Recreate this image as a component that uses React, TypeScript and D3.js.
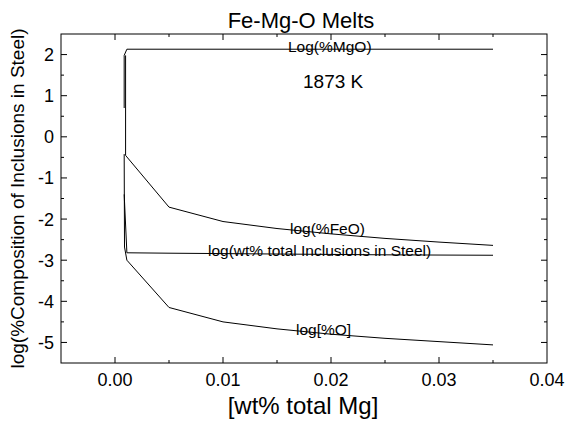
import React from "react";
import * as d3 from "d3";

const W = 566;
const H = 421;

// x values (wt% total Mg)
const mgoX = [0.00085, 0.00085, 0.0011, 0.005, 0.01, 0.015, 0.02, 0.025, 0.03, 0.035];
const mgoY = [0.7, 1.98, 2.13, 2.13, 2.13, 2.13, 2.13, 2.13, 2.13, 2.13];

const feoX = [0.00098, 0.00098, 0.0011, 0.005, 0.01, 0.015, 0.02, 0.025, 0.03, 0.035];
const feoY = [1.98, -0.45, -0.49, -1.71, -2.06, -2.23, -2.36, -2.47, -2.56, -2.64];

const totX = [0.00085, 0.0011, 0.005, 0.01, 0.015, 0.02, 0.025, 0.03, 0.035];
const totY = [-1.4, -2.82, -2.83, -2.84, -2.85, -2.86, -2.87, -2.875, -2.88];

const oX = [0.00085, 0.00088, 0.0011, 0.005, 0.01, 0.015, 0.02, 0.025, 0.03, 0.035];
const oY = [-0.42, -2.68, -3.0, -4.15, -4.5, -4.67, -4.8, -4.9, -4.98, -5.06];

const xMajor = [0.0, 0.01, 0.02, 0.03, 0.04];
const xMinor = [0.005, 0.015, 0.025, 0.035];
const yMajor = [2, 1, 0, -1, -2, -3, -4, -5];
const yMinor = [1.5, 0.5, -0.5, -1.5, -2.5, -3.5, -4.5];

const FONT = "'Liberation Sans', Arial, Helvetica, sans-serif";

export default function App() {
  const left = 61, right = 547, top = 34, bottom = 363;
  const x = d3.scaleLinear().domain([-0.005, 0.04]).range([left, right]);
  const y = d3.scaleLinear().domain([-5.5, 2.5]).range([bottom, top]);

  const mk = (xs: number[], ys: number[]) =>
    d3.line<number>().x((_, i) => x(xs[i])).y((_, i) => y(ys[i]))(xs.map((_, i) => i)) || "";

  const series = [
    { xs: mgoX, ys: mgoY },
    { xs: feoX, ys: feoY },
    { xs: totX, ys: totY },
    { xs: oX, ys: oY },
  ];

  const maj = 6, min = 3;

  return (
    <svg width={W} height={H} style={{ position: "absolute", left: 0, top: 0, background: "#fff" }}>
      <rect x={0} y={0} width={W} height={H} fill="#fff" />
      {/* curves */}
      {series.map((s, i) => (
        <path key={i} d={mk(s.xs, s.ys)} fill="none" stroke="#000" strokeWidth={1} />
      ))}
      {/* frame */}
      <rect x={left} y={top} width={right - left} height={bottom - top} fill="none" stroke="#000" strokeWidth={1} />
      {/* x ticks */}
      {xMajor.filter((v) => v < 0.04).map((v) => (
        <g key={"xm" + v}>
          <line x1={x(v)} x2={x(v)} y1={bottom} y2={bottom - maj} stroke="#000" />
          <line x1={x(v)} x2={x(v)} y1={top} y2={top + maj} stroke="#000" />
        </g>
      ))}
      {xMinor.map((v) => (
        <g key={"xn" + v}>
          <line x1={x(v)} x2={x(v)} y1={bottom} y2={bottom - min} stroke="#000" />
          <line x1={x(v)} x2={x(v)} y1={top} y2={top + min} stroke="#000" />
        </g>
      ))}
      {xMajor.map((v) => (
        <text key={"xl" + v} x={x(v)} y={386} textAnchor="middle" fontFamily={FONT} fontSize={18} fill="#000">
          {v.toFixed(2)}
        </text>
      ))}
      {/* y ticks */}
      {yMajor.map((v) => (
        <g key={"ym" + v}>
          <line x1={left} x2={left + maj} y1={y(v)} y2={y(v)} stroke="#000" />
          <line x1={right} x2={right - maj} y1={y(v)} y2={y(v)} stroke="#000" />
          <text x={54} y={y(v)} dy="0.36em" textAnchor="end" fontFamily={FONT} fontSize={18} fill="#000">
            {v}
          </text>
        </g>
      ))}
      {yMinor.map((v) => (
        <g key={"yn" + v}>
          <line x1={left} x2={left + min} y1={y(v)} y2={y(v)} stroke="#000" />
          <line x1={right} x2={right - min} y1={y(v)} y2={y(v)} stroke="#000" />
        </g>
      ))}
      {/* titles */}
      <text x={301} y={28} textAnchor="middle" fontFamily={FONT} fontSize={22} fill="#000">
        Fe-Mg-O Melts
      </text>
      <text x={303} y={414} textAnchor="middle" fontFamily={FONT} fontSize={24} fill="#000">
        [wt% total Mg]
      </text>
      <text
        transform={`translate(24,${(top + bottom) / 2}) rotate(-90)`}
        textAnchor="middle"
        fontFamily={FONT}
        fontSize={19}
        fill="#000"
      >
        log(%Composition of Inclusions in Steel)
      </text>
      {/* annotations */}
      <text x={288} y={52} fontFamily={FONT} fontSize={15.5} fill="#000">Log(%MgO)</text>
      <text x={303} y={88} fontFamily={FONT} fontSize={19} fill="#000">1873 K</text>
      <text x={290} y={234} fontFamily={FONT} fontSize={15.5} fill="#000">log(%FeO)</text>
      <text x={208} y={256} fontFamily={FONT} fontSize={15.5} fill="#000">log(wt% total Inclusions in Steel)</text>
      <text x={296} y={335} fontFamily={FONT} fontSize={15.5} fill="#000">log[%O]</text>
    </svg>
  );
}
